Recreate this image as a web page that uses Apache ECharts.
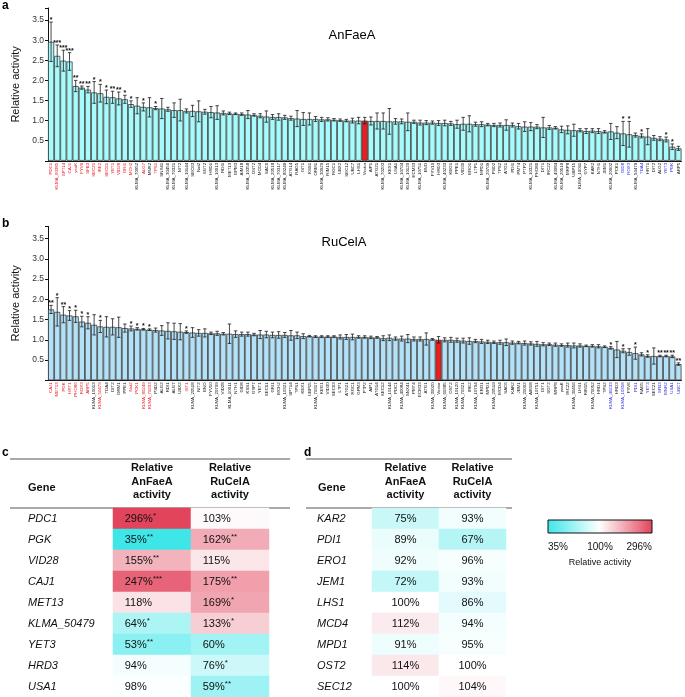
<!DOCTYPE html>
<html><head><meta charset="utf-8">
<script src="https://cdn.jsdelivr.net/npm/echarts@6/dist/echarts.min.js"></script>
<style>html,body{margin:0;padding:0;background:#fff}#c{width:685px;height:697px}</style>
</head><body><div id="c"></div><script>
// ---------- Panel a (AnFaeA) ----------
var genesA = ['PDC1','KLMA_60385','SPT14','CAJ1','yeaK','FYV6','SFB3','SEC21','IRE2','SEC61','YET1','VID28','GRI1','MCH2','KLMA_70052','ALG7','MNR2','TPS1','SNX41','KLMA_30456','KLMA_70321','NIT2','KLMA_10144','SEC63','Nat2','SGT2','HRD1','KLMA_10013','RDI1','MET13','GPM3','AIM18','KLMA_10358','OST2','MCD4','SAC6','KLMA_20518','KLMA_70317','KLMA_80249','ATG14','RAG5','IST1','KSS1','ORM1','KLMA_30020','RIM15','RGC1','UBX2','SEC12','UBC7','LHS1','Vector','AIP1','ATG21','KLMA_70203','KEX1','USA1','KLMA_10704','KLMA_10120','ECM33','KLMA_10751','ENO','FYV10','HRD3','KLMA_40233','KEG1','PPE1','VID30','ERO1','LTP1','MPD1','KLMA_20709','PSD2','TPS2','ATG1','PDI1','PMT4','PTP2','KLMA_10321','PHO86','DIT1','IRC22','KLMA_40084','KLMA_20519','MRP8','UBP15','KLMA_10011','GYP7','KAR2','NTH1','JEM1','KLMA_20002','PCK1','GID8','ROX3','KLMA_50479','TDA4','HRT1','DIT2','ALG2','YET3','PGK','ARP5'];
var valsA = [2.96,2.61,2.49,2.47,1.86,1.82,1.77,1.70,1.68,1.59,1.58,1.55,1.53,1.41,1.37,1.34,1.33,1.31,1.30,1.28,1.26,1.26,1.24,1.24,1.23,1.22,1.21,1.20,1.19,1.18,1.17,1.16,1.15,1.14,1.12,1.10,1.09,1.09,1.08,1.06,1.05,1.04,1.04,1.04,1.03,1.03,1.02,1.01,1.00,1.00,1.00,1.00,0.99,0.99,0.99,0.98,0.98,0.98,0.97,0.97,0.95,0.95,0.95,0.94,0.94,0.93,0.91,0.92,0.92,0.91,0.91,0.90,0.89,0.89,0.89,0.89,0.86,0.85,0.85,0.85,0.83,0.83,0.82,0.78,0.77,0.76,0.76,0.74,0.75,0.74,0.72,0.73,0.70,0.68,0.66,0.64,0.62,0.60,0.57,0.55,0.53,0.35,0.31];
var errA = [0.49,0.27,0.26,0.22,0.14,0.04,0.08,0.27,0.22,0.17,0.15,0.16,0.10,0.08,0.20,0.10,0.24,0.04,0.25,0.05,0.18,0.27,0.05,0.14,0.26,0.06,0.14,0.17,0.05,0.03,0.02,0.03,0.10,0.03,0.05,0.14,0.06,0.08,0.05,0.05,0.20,0.16,0.15,0.06,0.05,0.04,0.03,0.03,
  0.03,0.06,0.08,0.08,0.10,0.20,0.20,0.32,0.07,0.06,0.22,0.04,0.06,0.05,0.04,0.06,0.07,0.05,0.10,0.16,0.20,0.05,0.06,0.03,0.04,0.05,0.13,0.05,0.07,0.12,0.10,0.05,0.25,0.05,0.03,0.08,0.10,0.15,0.04,0.06,0.05,0.06,0.03,0.20,0.15,0.30,0.32,0.05,0.05,0.20,0.06,0.05,0.06,0.07,0.05];
var starsA = ['*','***','***','***','**','**','**','*','*','*','**','**','*','*','','*','','*','','','','','','','','','','','','','','','','','','','','','','','','','','','','','','','','','','','','','','','','','','','','','','','','','','','','','','','','','','','','','','','','','','','','','','','','','','','','*','*','','*','','','','*','*','','*','*','**','**','**'];

// ---------- Panel b (RuCelA) ----------
var genesB = ['CAJ1','MET13','PGK','HRT1','PHO86','ROX3','ARP5','KLMA_10013','KLMA_50479','TDA4','DIT2','ORM1','PPE1','Nat2','PCK1','KLMA_80249','KLMA_70203','PSD2','ALG2','RDI1','ALG7','UBX2','IST1','KLMA_20518','NIT2','ENO','FYV10','KLMA_20709','VID28','KLMA_10011','NTH1','GID8','KSS1','GYP7','YET1','SEC61','GRI1','MCH2','KLMA_10321','SPT14','TPS1','KEX1','UBP15','KLMA_70317','KEG1','VID30','SEC63','LTP1','ATG21','RGC1','GPM3','PTP2','AIP1','ATG14','SEC12','KLMA_10144','PDC1','KLMA_40084','SNX41','PMT4','ECM33','ATG1','KLMA_30020','Vector','KLMA_60385','OST2','KLMA_10120','KLMA_70321','IRE2','KLMA_10704','ERO1','MPD1','KLMA_20519','MCD4','SAC6','KAR2','JEM1','KLMA_20002','AIM18','KLMA_10751','DIT1','SGT2','MRP8','yeaK','IRC22','KLMA_30456','LHS1','RIM15','KLMA_70052','HRD1','TPS2','KLMA_40233','HRD3','KLMA_10358','FYV6','PDI1','RAG5','YET3','SEC21','SFB3','MNR2','USA1','UBC7'];
var valsB = [1.75,1.69,1.62,1.60,1.58,1.45,1.42,1.37,1.33,1.32,1.32,1.31,1.29,1.28,1.27,1.26,1.25,1.24,1.23,1.22,1.21,1.20,1.19,1.18,1.17,1.17,1.16,1.16,1.15,1.15,1.14,1.14,1.14,1.13,1.13,1.13,1.12,1.12,1.12,1.11,1.11,1.09,1.09,1.08,1.08,1.08,1.08,1.07,1.07,1.07,1.07,1.07,1.06,1.06,1.04,1.05,1.03,1.03,1.03,1.02,1.02,1.02,1.01,1.00,1.00,1.00,0.99,0.98,0.97,0.97,0.96,0.95,0.94,0.94,0.94,0.93,0.93,0.92,0.91,0.90,0.89,0.89,0.88,0.87,0.87,0.86,0.86,0.85,0.85,0.84,0.83,0.80,0.76,0.73,0.70,0.67,0.64,0.60,0.60,0.60,0.60,0.59,0.40];
var errB = [0.10,0.35,0.20,0.12,0.15,0.13,0.15,0.25,0.15,0.25,0.20,0.25,0.10,0.06,0.03,0.02,0.02,0.05,0.12,0.20,0.20,0.20,0.03,0.12,0.08,0.10,0.03,0.05,0.03,0.24,0.08,0.05,0.05,0.03,0.10,0.08,0.07,0.08,0.06,0.12,0.08,0.06,0.02,0.02,0.02,0.02,0.02,0.05,
  0.06,0.07,0.03,0.03,0.03,0.02,0.06,0.07,0.04,0.06,0.10,0.05,0.05,0.15,0.02,0.08,0.05,0.06,0.05,0.06,0.08,0.04,0.05,0.04,0.03,0.05,0.08,0.04,0.03,0.05,0.04,0.06,0.04,0.03,0.04,0.03,0.05,0.06,0.04,0.02,0.03,0.04,0.02,0.03,0.20,0.05,0.08,0.15,0.04,0.03,0.20,0.02,0.02,0.03,0.03,0.03,0.20];
var starsB = ['**','*','**','*','*','*','*','','*','','','','','*','*','*','*','','','','','','*','','','','','','','','','','','','','','','','','','','','','','','','','','','','','','','','','','','','','','','','','','','','','','','','','','','','','','','','','','','','','','','','','','','','','*','','*','','*','','*','','**','**','**','**','**'];

// ---------- Tables c, d ----------
var genesC = ['PDC1','PGK','VID28','CAJ1','MET13','KLMA_50479','YET3','HRD3','USA1'];
var anC = [296,35,155,247,118,64,53,94,98];
var anCStars = ['*','**','**','***','','*','**','',''];
var ruC = [103,162,115,175,169,133,60,76,59];
var ruCStars = ['','**','','**','*','*','','*','**'];
var genesD = ['KAR2','PDI1','ERO1','JEM1','LHS1','MCD4','MPD1','OST2','SEC12'];
var anD = [75,89,92,72,100,112,91,114,100];
var ruD = [93,67,96,93,86,94,95,100,104];
var scaleMin = 35, scaleMid = 100, scaleMax = 296;
var colHeaders = ['Relative\nAnFaeA\nactivity','Relative\nRuCelA\nactivity'];

var FONT = 'Liberation Sans, Arial, sans-serif';
var LOW = [62,230,232], MID = [255,255,255], HIGH = [226,68,92];
function mix(a,b,t){return 'rgb('+a.map(function(x,i){return Math.round(x+(b[i]-x)*t);}).join(',')+')';}
function heat(v){
  var l = Math.log(v), lm = Math.log(scaleMid);
  if (v <= scaleMid) return mix(MID, LOW, Math.min(1,(lm-l)/(lm-Math.log(scaleMin))));
  return mix(MID, HIGH, Math.min(1,(l-lm)/(Math.log(scaleMax)-lm)));
}

var chart = echarts.init(document.getElementById('c'), null, {renderer:'canvas'});

function barItems(vals, genes, fill){
  return vals.map(function(v,i){
    var vec = genes[i]==='Vector';
    return {value:v, itemStyle:{color: vec ? '#f01c1c' : fill}};
  });
}
function labelItems(genes, vals, stars){
  return genes.map(function(g,i){
    var c = '#111';
    if (stars[i]) c = vals[i] > 1 ? '#e8141c' : '#2a2ae0';
    return {value:g, textStyle:{color:c}};
  });
}
function errSeries(xi, vals, errs, stars){
  return {
    type:'custom', xAxisIndex:xi, yAxisIndex:xi, z:5,
    data: vals.map(function(v,i){return [i, v, errs[i]];}),
    renderItem: function(params, api){
      var i = api.value(0), v = api.value(1), e = api.value(2);
      var t = api.coord([i, v+e]), b = api.coord([i, v-e]);
      var w = api.size([1,0])[0]*0.28;
      var st = {stroke:'#1a1a1a', lineWidth:0.8};
      var ch = [
        {type:'line', shape:{x1:t[0],y1:t[1],x2:b[0],y2:b[1]}, style:st},
        {type:'line', shape:{x1:t[0]-w,y1:t[1],x2:t[0]+w,y2:t[1]}, style:st},
        {type:'line', shape:{x1:b[0]-w,y1:b[1],x2:b[0]+w,y2:b[1]}, style:st}
      ];
      var s = stars[params.dataIndex];
      if (s) ch.push({type:'text', style:{text:s, x:t[0], y:t[1]+1.5, align:'center', verticalAlign:'bottom', font:'bold 7px '+FONT, fill:'#111'}});
      return {type:'group', children:ch};
    }
  };
}
function barX(idx, genes, vals, stars){
  return {gridIndex:idx, type:'category', data:labelItems(genes, vals, stars),
    axisLine:{lineStyle:{color:'#111', width:1}}, axisTick:{show:false},
    axisLabel:{interval:0, rotate:90, fontSize:4.4, margin:2, fontFamily:FONT}};
}
function barY(idx){
  return {gridIndex:idx, type:'value', min:0, max:3.8, interval:0.5,
    name:'Relative activity', nameLocation:'middle', nameGap:26,
    nameTextStyle:{fontSize:11, color:'#111', fontFamily:FONT},
    axisLine:{show:true, lineStyle:{color:'#111'}}, axisTick:{show:true, length:3, lineStyle:{color:'#111'}},
    splitLine:{show:false}, showMaxLabel:false,
    axisLabel:{fontSize:8.5, color:'#333', margin:4, fontFamily:FONT,
      formatter:function(v){return (v===0 || v>3.5) ? '' : v.toFixed(1);}}};
}

function heatData(a, b){
  var d = [];
  a.forEach(function(v,i){ d.push([0,i,v]); });
  b.forEach(function(v,i){ d.push([1,i,v]); });
  return d;
}
function heatSeries(xi, a, as, b, bs, center){
  return {
    type:'heatmap', xAxisIndex:xi, yAxisIndex:xi,
    data: heatData(a,b).map(function(p){return {value:p, itemStyle:{color:heat(p[2])}};}),
    label:{show:true, position: center ? 'inside' : 'insideLeft', distance: 12, fontSize:11, color:'#111', fontFamily:FONT,
      formatter:function(p){
        var s = p.value[0]===0 ? (as ? as[p.value[1]] : '') : (bs ? bs[p.value[1]] : '');
        return '{t|'+p.value[2]+'%}' + (s ? '{s|'+s+'}' : '');
      },
      rich:{t:{fontSize:11, fontFamily:FONT, color:'#111'}, s:{fontSize:8, fontFamily:FONT, color:'#111', padding:[0,0,6,0]}}},
    emphasis:{disabled:true}
  };
}
function tabX(idx){
  return {gridIndex:idx, type:'category', position:'top', data:colHeaders,
    axisLine:{show:false}, axisTick:{show:false},
    axisLabel:{fontSize:11, fontWeight:'bold', lineHeight:13.5, color:'#111', margin:6, fontFamily:FONT}};
}
function tabY(idx, genes, margin){
  return {gridIndex:idx, type:'category', inverse:true, data:genes,
    axisLine:{show:false}, axisTick:{show:false},
    axisLabel:{fontSize:11, fontStyle:'italic', color:'#111', align:'left', margin:margin, fontFamily:FONT}};
}

var grad = new echarts.graphic.LinearGradient(0,0,1,0,[
  {offset:0, color:heat(scaleMin)},{offset:0.25,color:heat(Math.sqrt(scaleMin*scaleMid))},
  {offset:(Math.log(scaleMid)-Math.log(scaleMin))/(Math.log(scaleMax)-Math.log(scaleMin)), color:heat(scaleMid)},
  {offset:0.75, color:heat(Math.sqrt(scaleMid*scaleMax))},{offset:1, color:heat(scaleMax)}]);

chart.setOption({
  animation:false,
  textStyle:{fontFamily:FONT},
  grid:[
    {left:48, top:8, width:633.5, height:152.8},
    {left:48, top:226.4, width:633.5, height:153.9},
    {left:113, top:508, width:156, height:189},
    {left:372, top:508, width:134, height:189}
  ],
  xAxis:[barX(0, genesA, valsA, starsA), barX(1, genesB, valsB, starsB), tabX(2), tabX(3)],
  yAxis:[barY(0), barY(1), tabY(2, genesC, 85), tabY(3, genesD, 55)],
  series:[
    {type:'bar', xAxisIndex:0, yAxisIndex:0, data:barItems(valsA, genesA, '#a6fcfc'), barCategoryGap:'0%',
      itemStyle:{borderColor:'#3c3c3c', borderWidth:0.8}},
    errSeries(0, valsA, errA, starsA),
    {type:'bar', xAxisIndex:1, yAxisIndex:1, data:barItems(valsB, genesB, '#b3e2f8'), barCategoryGap:'0%',
      itemStyle:{borderColor:'#3c3c3c', borderWidth:0.8}},
    errSeries(1, valsB, errB, starsB),
    heatSeries(2, anC, anCStars, ruC, ruCStars, false),
    heatSeries(3, anD, null, ruD, null, true)
  ],
  graphic:[
    {type:'text', left:2, top:0, style:{text:'a', font:'bold 12px '+FONT, fill:'#000'}},
    {type:'text', left:2, top:218, style:{text:'b', font:'bold 12px '+FONT, fill:'#000'}},
    {type:'text', left:2, top:447, style:{text:'c', font:'bold 12px '+FONT, fill:'#000'}},
    {type:'text', left:304, top:447, style:{text:'d', font:'bold 12px '+FONT, fill:'#000'}},
    {type:'text', x:352, y:35, style:{text:'AnFaeA', font:'13px '+FONT, fill:'#000', align:'center', verticalAlign:'middle'}},
    {type:'text', x:344, y:242, style:{text:'RuCelA', font:'13px '+FONT, fill:'#000', align:'center', verticalAlign:'middle'}},
    {type:'line', shape:{x1:10,y1:459,x2:290,y2:459}, style:{stroke:'#555', lineWidth:1}},
    {type:'line', shape:{x1:10,y1:508,x2:290,y2:508}, style:{stroke:'#555', lineWidth:1}},
    {type:'line', shape:{x1:306,y1:459,x2:512,y2:459}, style:{stroke:'#555', lineWidth:1}},
    {type:'line', shape:{x1:306,y1:508,x2:512,y2:508}, style:{stroke:'#555', lineWidth:1}},
    {type:'text', x:28, y:488, style:{text:'Gene', font:'bold 11px '+FONT, fill:'#111', verticalAlign:'middle'}},
    {type:'text', x:318, y:488, style:{text:'Gene', font:'bold 11px '+FONT, fill:'#111', verticalAlign:'middle'}},
    {type:'rect', shape:{x:548, y:520, width:104, height:13}, style:{fill:grad, stroke:'#111', lineWidth:1}},
    {type:'text', x:548, y:547, style:{text:scaleMin+'%', font:'10px '+FONT, fill:'#111', align:'left', verticalAlign:'middle'}},
    {type:'text', x:600, y:547, style:{text:scaleMid+'%', font:'10px '+FONT, fill:'#111', align:'center', verticalAlign:'middle'}},
    {type:'text', x:652, y:547, style:{text:scaleMax+'%', font:'10px '+FONT, fill:'#111', align:'right', verticalAlign:'middle'}},
    {type:'text', x:600, y:563, style:{text:'Relative activity', font:'9px '+FONT, fill:'#111', align:'center', verticalAlign:'middle'}}
  ]
});
</script></body></html>
